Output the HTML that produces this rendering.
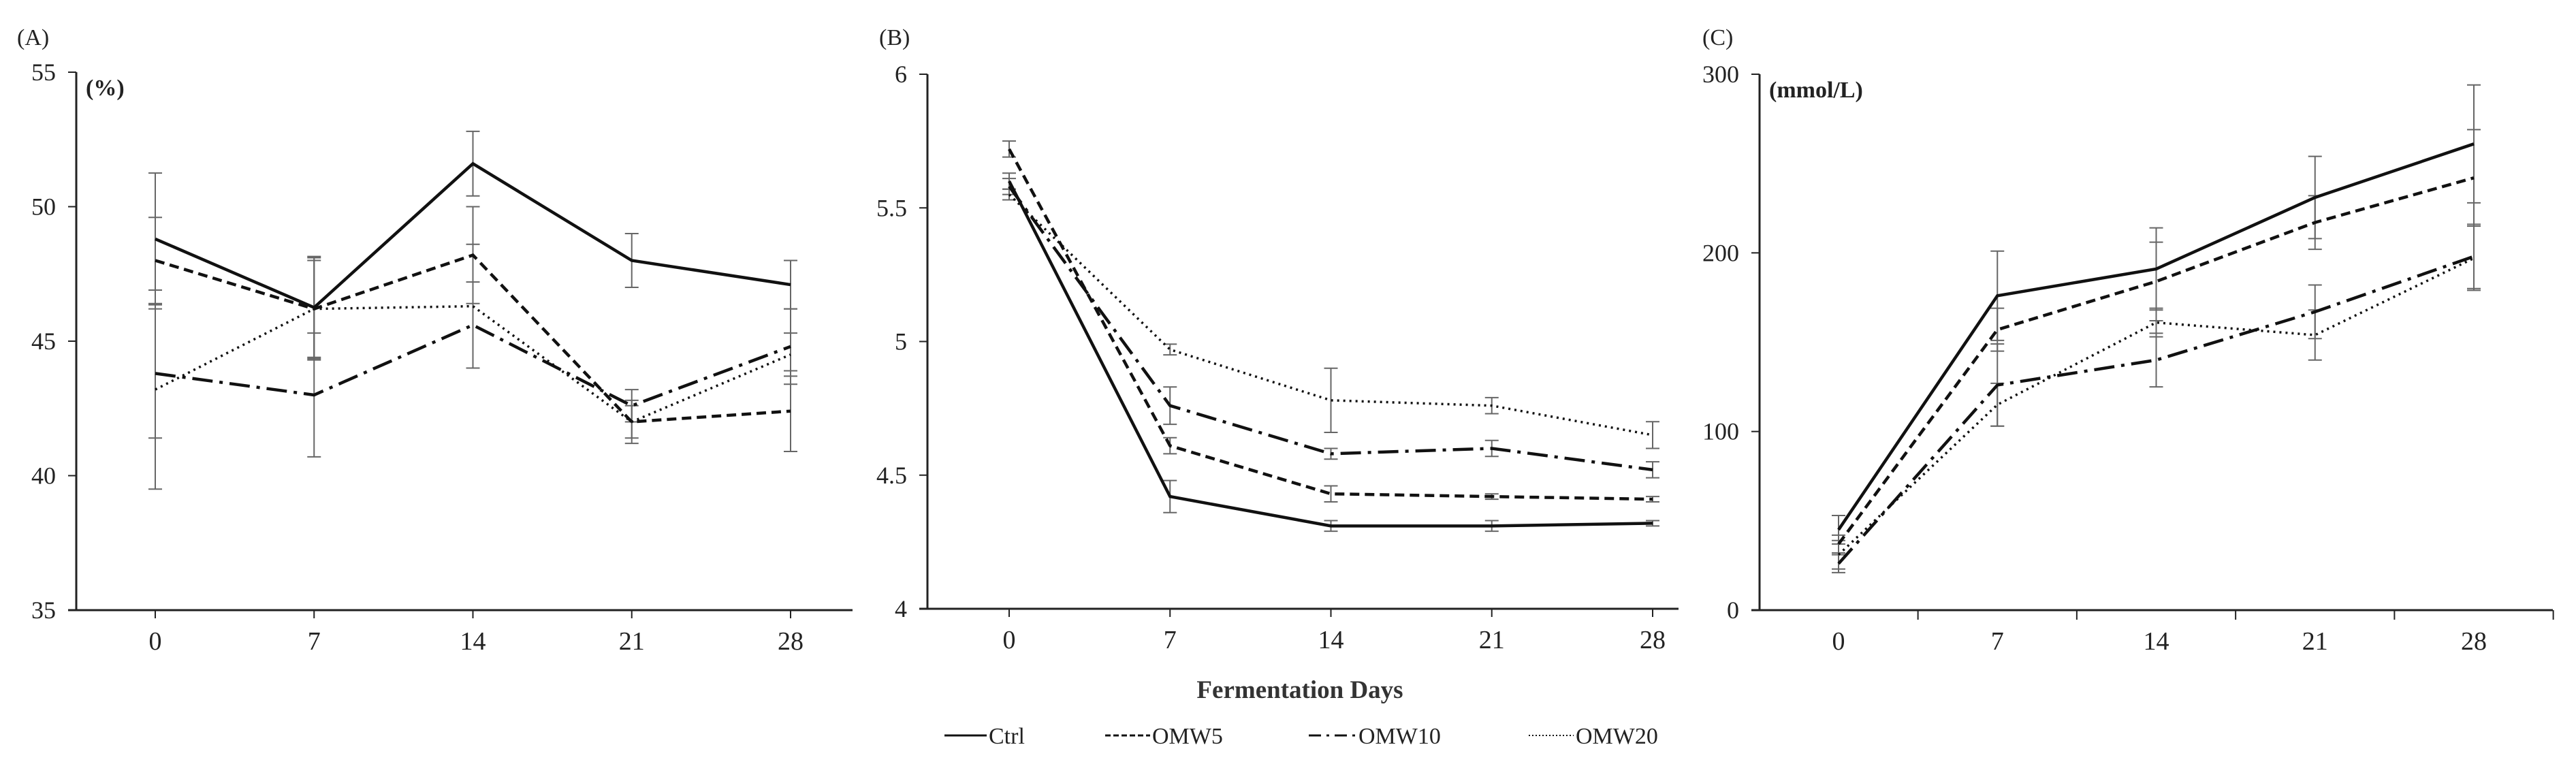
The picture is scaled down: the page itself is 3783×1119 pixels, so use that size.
<!DOCTYPE html>
<html><head><meta charset="utf-8"><style>
html,body{margin:0;padding:0;background:#fff;}
svg{display:block;font-family:"Liberation Serif",serif;}
</style></head><body>
<svg id="chart" width="3783" height="1119" viewBox="0 0 3783 1119" xmlns="http://www.w3.org/2000/svg"></svg>
<script>
const days = [0, 7, 14, 21, 28];
const seriesNames = ["Ctrl", "OMW5", "OMW10", "OMW20"];
// Panel A (%)
const aCtrl = [48.8, 46.25, 51.6, 48.0, 47.1];
const aCtrlErr = [2.45, 1.9, 1.2, 1.0, 0.9];
const aOMW5 = [48.0, 46.2, 48.2, 42.0, 42.4];
const aOMW5Err = [1.6, 1.9, 1.8, 0.8, 1.5];
const aOMW10 = [43.8, 43.0, 45.6, 42.6, 44.8];
const aOMW10Err = [2.4, 2.3, 1.6, 0.6, 1.4];
const aOMW20 = [43.2, 46.2, 46.3, 42.0, 44.5];
const aOMW20Err = [3.7, 1.8, 2.3, 0.6, 0.8];
const aTicks = [35, 40, 45, 50, 55];
// Panel B (pH)
const bCtrl = [5.6, 4.42, 4.31, 4.31, 4.32];
const bCtrlErr = [0.03, 0.06, 0.02, 0.02, 0.01];
const bOMW5 = [5.72, 4.61, 4.43, 4.42, 4.41];
const bOMW5Err = [0.03, 0.03, 0.03, 0.01, 0.01];
const bOMW10 = [5.58, 4.76, 4.58, 4.60, 4.52];
const bOMW10Err = [0.03, 0.07, 0.02, 0.03, 0.03];
const bOMW20 = [5.55, 4.97, 4.78, 4.76, 4.65];
const bOMW20Err = [0.02, 0.02, 0.12, 0.03, 0.05];
const bTicks = [4, 4.5, 5, 5.5, 6];
// Panel C (mmol/L)
const cCtrl = [45, 176, 191, 231, 261];
const cCtrlErr = [8, 25, 23, 23, 33];
const cOMW5 = [37, 157, 184, 217, 242];
const cOMW5Err = [5, 12, 22, 15, 27];
const cOMW10 = [26, 126, 140, 167, 198];
const cOMW10Err = [5, 23, 15, 15, 18];
const cOMW20 = [31, 115, 161, 154, 197];
const cOMW20Err = [8, 12, 8, 14, 18];
const cTicks = [0, 100, 200, 300];

const NS = "http://www.w3.org/2000/svg";
const svg = document.getElementById("chart");
function mk(tag, attrs, parent){const e=document.createElementNS(NS,tag);for(const k in attrs)e.setAttribute(k,attrs[k]);(parent||svg).appendChild(e);return e;}
const dashes = ["", "14 8", "30 10 5 10", "3 6"];

function panel(cfg){
  const g = mk("g",{});
  
  
  const yS = v => cfg.yBot - (v - cfg.yMin)/(cfg.yMax - cfg.yMin)*(cfg.yBot - cfg.yTop);
  const xS = i => cfg.x0 + (cfg.x28 - cfg.x0)*days[i]/28;
  const yAxis = mk("line",{x1:cfg.ax,y1:cfg.yTop,x2:cfg.ax,y2:cfg.yBot,stroke:"#222","stroke-width":3},g);
  
  
  const xAxis = mk("line",{x1:cfg.ax-12,y1:cfg.yBot,x2:cfg.axEnd,y2:cfg.yBot,stroke:"#222","stroke-width":3},g);
  
  
  cfg.ticks.forEach(t=>{
    const y=yS(t);
    mk("line",{x1:cfg.ax-12,y1:y,x2:cfg.ax,y2:y,stroke:"#222","stroke-width":2},g);
    const tx=mk("text",{x:cfg.ax-30,y:y+12,"text-anchor":"end","font-size":36,fill:"#222"},g);
    tx.textContent=String(t);
    
    
  });
  days.forEach((d,i)=>{
    const x=xS(i);
    if(!cfg.catTicks) mk("line",{x1:x,y1:cfg.yBot,x2:x,y2:cfg.yBot+12,stroke:"#222","stroke-width":2},g);
    else { const step=(cfg.x28-cfg.x0)/4; mk("line",{x1:x+step/2,y1:cfg.yBot,x2:x+step/2,y2:cfg.yBot+14,stroke:"#222","stroke-width":2},g); }
    const tx=mk("text",{x:x,y:cfg.yBot+58,"text-anchor":"middle","font-size":38,fill:"#222"},g);
    tx.textContent=String(d);
    
    
  });
  const lab=mk("text",{x:cfg.labX,y:cfg.labY,"font-size":34,fill:"#222"},g);
  lab.textContent=cfg.label;
  
  
  if(cfg.unit){
    const u=mk("text",{x:cfg.ax+14,y:cfg.yTop+34,"font-size":34,"font-weight":"bold",fill:"#222"},g);
    u.textContent=cfg.unit;
    
    
  }
  cfg.series.forEach((s,k)=>{
    s.err.forEach((e,i)=>{
      const x=xS(i), y1=yS(s.vals[i]-e), y2=yS(s.vals[i]+e);
      const eb=mk("path",{d:`M${x},${y1}V${y2}M${x-10},${y1}H${x+10}M${x-10},${y2}H${x+10}`,stroke:"#666","stroke-width":2,fill:"none"},g);
      
      
    });
  });
  cfg.series.forEach((s,k)=>{
    const pts=s.vals.map((v,i)=>xS(i)+","+yS(v)).join(" ");
    const pl=mk("polyline",{points:pts,fill:"none",stroke:"#111","stroke-width":k===3?3.5:4.5,"stroke-dasharray":dashes[k]},g);
    
    
  });
}

panel({name:"panel-a",label:"(A)",labX:25,labY:66,unit:"(%)",ax:112,axEnd:1252,yTop:106,yBot:896,yMin:35,yMax:55,x0:228,x28:1161,ticks:aTicks,
  series:[{vals:aCtrl,err:aCtrlErr},{vals:aOMW5,err:aOMW5Err},{vals:aOMW10,err:aOMW10Err},{vals:aOMW20,err:aOMW20Err}]});
panel({name:"panel-b",label:"(B)",labX:1291,labY:66,unit:"",ax:1362,axEnd:2465,yTop:109,yBot:894,yMin:4,yMax:6,x0:1482,x28:2427,ticks:bTicks,
  series:[{vals:bCtrl,err:bCtrlErr},{vals:bOMW5,err:bOMW5Err},{vals:bOMW10,err:bOMW10Err},{vals:bOMW20,err:bOMW20Err}]});
panel({name:"panel-c",label:"(C)",labX:2500,labY:66,unit:"(mmol/L)",ax:2584,axEnd:3749,yTop:109,yBot:896,yMin:0,yMax:300,x0:2700,x28:3633,ticks:cTicks,catTicks:true,
  series:[{vals:cCtrl,err:cCtrlErr},{vals:cOMW5,err:cOMW5Err},{vals:cOMW10,err:cOMW10Err},{vals:cOMW20,err:cOMW20Err}]});

const xt=mk("text",{x:1909,y:1025,"text-anchor":"middle","font-size":37,"font-weight":"bold",fill:"#333"});
xt.textContent="Fermentation Days";



const legX=[[1387,1449],[1623,1689],[1922,1992],[2245,2311]];
seriesNames.forEach((n,k)=>{
  const g=mk("g",{});
  
  
  mk("line",{x1:legX[k][0],y1:1080,x2:legX[k][1],y2:1080,stroke:"#111","stroke-width":k===3?2:3,"stroke-dasharray":k===3?"2 3":(k===1?"8 4":(k===2?"18 8 4 8":""))},g);
  const t=mk("text",{x:legX[k][1]+3,y:1092,"font-size":34,fill:"#222"},g);
  t.textContent=n;
});
</script>
</body></html>
